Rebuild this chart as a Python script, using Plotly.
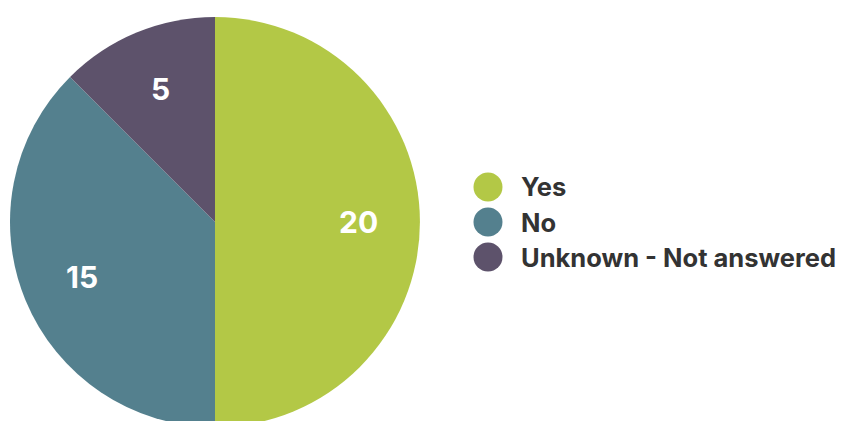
import math
import plotly.graph_objects as go

# Survey responses
categories = ["Yes", "No", "Unknown - Not answered"]
counts = [20, 15, 5]
colors = ["#B3C846", "#54808E", "#5D526B"]

W, H = 842, 434          # figure slightly taller than the view so the pie bleeds off the bottom
cx, cy, r = 215, 222, 205  # pie centre (px from top-left) and radius

fig = go.Figure()
fig.add_trace(go.Pie(
    labels=categories,
    values=counts,
    sort=False,
    direction="clockwise",
    rotation=0,
    marker=dict(colors=colors, line=dict(width=0)),
    textinfo="none",
    showlegend=False,
    hoverinfo="label+value",
    domain=dict(x=[(cx - r) / W, (cx + r) / W],
                y=[(H - cy - r) / H, (H - cy + r) / H]),
))

shapes, annotations = [], []

# Value labels, placed at 70% of the radius along each slice's mid-angle
total = sum(counts)
start = 0.0
for v in counts:
    mid = (start + v / 2) / total * 2 * math.pi   # clockwise from 12 o'clock
    start += v
    px = cx + 0.7 * r * math.sin(mid)
    py = cy - 0.7 * r * math.cos(mid)
    annotations.append(dict(text=str(v), xref="paper", yref="paper",
                            x=px / W, y=(H - py) / H,
                            xanchor="center", yanchor="middle", showarrow=False,
                            font=dict(family="Inter", size=30, color="white", weight="bold")))

# Legend: coloured dots with bold labels
leg_x, leg_y0, leg_dy, dot_r = 488, 187, 35, 14.5
for i, (lab, col) in enumerate(zip(categories, colors)):
    y = leg_y0 + i * leg_dy
    shapes.append(dict(type="circle", xref="paper", yref="paper",
                       x0=(leg_x - dot_r) / W, x1=(leg_x + dot_r) / W,
                       y0=(H - y - dot_r) / H, y1=(H - y + dot_r) / H,
                       fillcolor=col, line=dict(width=0)))
    annotations.append(dict(text=lab, xref="paper", yref="paper",
                            x=(leg_x + 31) / W, y=(H - y) / H,
                            xanchor="left", yanchor="middle", showarrow=False,
                            font=dict(family="Inter", size=25.5, color="#333333", weight="bold")))

fig.update_layout(
    width=W, height=H,
    margin=dict(l=0, r=0, t=0, b=0),
    paper_bgcolor="white",
    plot_bgcolor="white",
    shapes=shapes,
    annotations=annotations,
)

fig.write_html(
    "out.html",
    post_script="document.body.style.margin='0';document.body.style.overflow='hidden';"
                "document.documentElement.style.overflow='hidden';",
)
